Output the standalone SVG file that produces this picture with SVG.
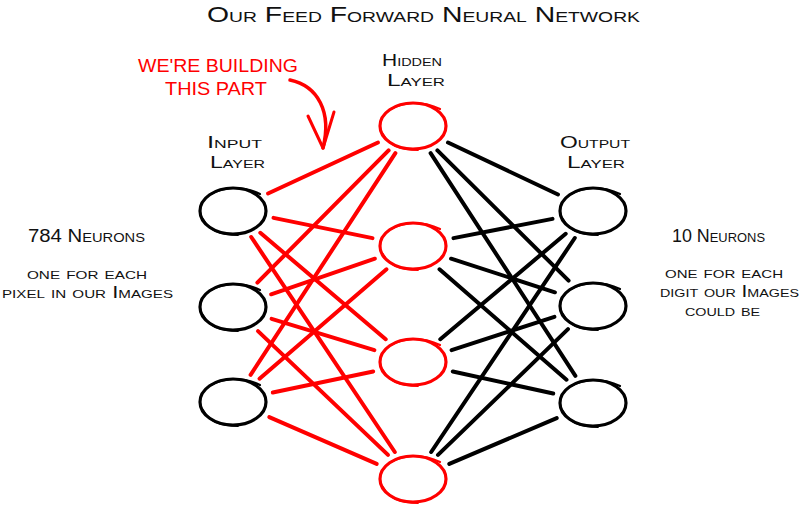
<svg xmlns="http://www.w3.org/2000/svg" xmlns:xlink="http://www.w3.org/1999/xlink" width="800" height="505" viewBox="0 0 800 505">
<style>
  text { font-family: "Liberation Sans", "DejaVu Sans", sans-serif; font-variant: small-caps; fill: #111; }
  .title { font-size: 22px; }
  .lbl { font-size: 18px; }
  .sm { font-size: 16px; }
  .red { fill: #ff0000; }
  .blk { stroke: #000; fill: none; }
  .rd { stroke: #ff0000; fill: none; }
  .edge { stroke-width: 4; stroke-linecap: round; fill: none; }
  #redges line { stroke: #ff0000; }
  #bedges line { stroke: #000; }
</style>
<defs>
  <g id="loop">
    <ellipse cx="0" cy="0" rx="33" ry="23" stroke-width="3.2"/>
    <path d="M-22,-17 Q2,-29 27,-17" stroke-width="2.2" stroke-linecap="round"/>
    <path d="M-30,8 Q-22,24 5,24" stroke-width="1.8" stroke-linecap="round"/>
  </g>
</defs>
<rect width="800" height="505" fill="#fff"/>

<text class="title" x="207" y="22" textLength="433" lengthAdjust="spacingAndGlyphs">Our Feed Forward Neural Network</text>

<g id="annotation">
  <text class="lbl red" x="138" y="72" textLength="160" lengthAdjust="spacingAndGlyphs">WE'RE BUILDING</text>
  <text class="lbl red" x="165" y="95" textLength="102" lengthAdjust="spacingAndGlyphs">THIS PART</text>
  <path d="M290,80 C318,86 332,112 323,148" stroke="#ff0000" stroke-width="3.5" fill="none" stroke-linecap="round"/>
  <path d="M308,116 L323,148 L334,112" stroke="#ff0000" stroke-width="3" fill="none" stroke-linecap="round" stroke-linejoin="round"/>
</g>

<g id="labels">
  <text class="sm" x="382" y="66" textLength="60" lengthAdjust="spacingAndGlyphs">Hidden</text>
  <text class="sm" x="387" y="86" textLength="58" lengthAdjust="spacingAndGlyphs">Layer</text>
  <text class="sm" x="207" y="148" textLength="55" lengthAdjust="spacingAndGlyphs">Input</text>
  <text class="sm" x="210" y="168" textLength="55" lengthAdjust="spacingAndGlyphs">Layer</text>
  <text class="sm" x="560" y="148" textLength="70" lengthAdjust="spacingAndGlyphs">Output</text>
  <text class="sm" x="567" y="168" textLength="58" lengthAdjust="spacingAndGlyphs">Layer</text>
  <text class="lbl" x="28" y="242" textLength="117" lengthAdjust="spacingAndGlyphs">784 Neurons</text>
  <text class="sm" x="27" y="279" textLength="120" lengthAdjust="spacingAndGlyphs">one for each</text>
  <text class="sm" x="2" y="298" textLength="171" lengthAdjust="spacingAndGlyphs">pixel in our Images</text>
  <text class="lbl" x="672" y="242" textLength="93" lengthAdjust="spacingAndGlyphs">10 Neurons</text>
  <text class="sm" x="665" y="278" textLength="118" lengthAdjust="spacingAndGlyphs">one for each</text>
  <text class="sm" x="660" y="297" textLength="139" lengthAdjust="spacingAndGlyphs">digit our Images</text>
  <text class="sm" x="685" y="316" textLength="75" lengthAdjust="spacingAndGlyphs">could be</text>
</g>

<g id="connectors" class="edge">
  <g id="redges">
    <line x1="268" y1="193.5" x2="378" y2="142.5"/>
    <line x1="273.5" y1="217.9" x2="372.5" y2="238.1"/>
    <line x1="260.3" y1="232.8" x2="385.7" y2="339.2"/>
    <line x1="251.2" y1="237" x2="394.8" y2="452"/>
    <line x1="257.4" y1="282.6" x2="388.6" y2="150.4"/>
    <line x1="271.1" y1="294.3" x2="374.9" y2="258.7"/>
    <line x1="271.6" y1="318.8" x2="374.4" y2="350.2"/>
    <line x1="258" y1="331.1" x2="388" y2="454.9"/>
    <line x1="250.6" y1="374.8" x2="395.4" y2="153.2"/>
    <line x1="259.5" y1="378.7" x2="386.5" y2="269.3"/>
    <line x1="272.8" y1="392.5" x2="373.2" y2="371.5"/>
    <line x1="269.3" y1="417.1" x2="376.7" y2="463.9"/>
  </g>
  <g id="bedges">
    <line x1="448" y1="142.5" x2="558" y2="194.5"/>
    <line x1="437.4" y1="150.4" x2="568.6" y2="280.6"/>
    <line x1="430.6" y1="153.2" x2="575.4" y2="375.8"/>
    <line x1="453.5" y1="238.1" x2="552.5" y2="218.9"/>
    <line x1="451.1" y1="258.7" x2="554.9" y2="292.3"/>
    <line x1="439.5" y1="269.3" x2="566.5" y2="379.7"/>
    <line x1="440.3" y1="339.2" x2="565.7" y2="233.8"/>
    <line x1="451.6" y1="350.2" x2="554.4" y2="316.8"/>
    <line x1="452.8" y1="371.5" x2="553.2" y2="393.5"/>
    <line x1="431.2" y1="452" x2="574.8" y2="238"/>
    <line x1="438" y1="454.9" x2="568" y2="329.1"/>
    <line x1="449.3" y1="463.9" x2="556.7" y2="418.1"/>
  </g>
</g>

<g id="input1"><use xlink:href="#loop" class="blk" transform="translate(233,211)"/></g>
<g id="input2"><use xlink:href="#loop" class="blk" transform="translate(233,307)"/></g>
<g id="input3"><use xlink:href="#loop" class="blk" transform="translate(233,402)"/></g>
<g id="hidden1"><use xlink:href="#loop" class="rd" transform="translate(413,126)"/></g>
<g id="hidden2"><use xlink:href="#loop" class="rd" transform="translate(413,246)"/></g>
<g id="hidden3"><use xlink:href="#loop" class="rd" transform="translate(413,362)"/></g>
<g id="hidden4"><use xlink:href="#loop" class="rd" transform="translate(413,479)"/></g>
<g id="output1"><use xlink:href="#loop" class="blk" transform="translate(593,211)"/></g>
<g id="output2"><use xlink:href="#loop" class="blk" transform="translate(593,306)"/></g>
<g id="output3"><use xlink:href="#loop" class="blk" transform="translate(593,403)"/></g>
</svg>
